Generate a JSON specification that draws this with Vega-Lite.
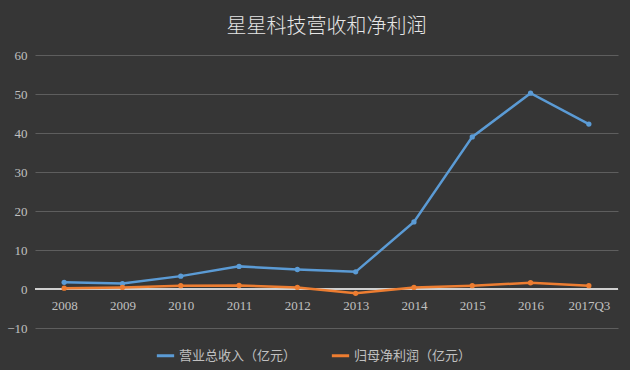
{
  "$schema": "https://vega.github.io/schema/vega-lite/v6.json",
  "autosize": "none",
  "width": 583,
  "height": 273,
  "padding": {"left": 35, "top": 55, "right": 12, "bottom": 42},
  "background": "#363636",
  "title": {
    "text": "星星科技营收和净利润",
    "font": "Noto Sans CJK SC",
    "fontWeight": 300,
    "fontSize": 20,
    "color": "#e6e6e6",
    "anchor": "middle",
    "offset": 12
  },
  "config": {
    "view": {"stroke": null},
    "font": "Liberation Serif",
    "axisY": {
      "labelOverlap": false,
      "grid": true,
      "gridColor": "#5e5e5e",
      "gridWidth": 1,
      "domain": false,
      "ticks": false,
      "labelColor": "#c0c0c0",
      "labelFontSize": 13,
      "labelFont": "Liberation Serif",
      "labelPadding": 8,
      "title": null
    }
  },
  "data": {
    "values": [
      {"period": "2008", "series": "营业总收入（亿元）", "value": 1.7},
      {"period": "2009", "series": "营业总收入（亿元）", "value": 1.4},
      {"period": "2010", "series": "营业总收入（亿元）", "value": 3.3},
      {"period": "2011", "series": "营业总收入（亿元）", "value": 5.8},
      {"period": "2012", "series": "营业总收入（亿元）", "value": 5.0},
      {"period": "2013", "series": "营业总收入（亿元）", "value": 4.4},
      {"period": "2014", "series": "营业总收入（亿元）", "value": 17.2},
      {"period": "2015", "series": "营业总收入（亿元）", "value": 39.0},
      {"period": "2016", "series": "营业总收入（亿元）", "value": 50.2},
      {"period": "2017Q3", "series": "营业总收入（亿元）", "value": 42.3},
      {"period": "2008", "series": "归母净利润（亿元）", "value": 0.2},
      {"period": "2009", "series": "归母净利润（亿元）", "value": 0.4},
      {"period": "2010", "series": "归母净利润（亿元）", "value": 0.85},
      {"period": "2011", "series": "归母净利润（亿元）", "value": 0.9},
      {"period": "2012", "series": "归母净利润（亿元）", "value": 0.4},
      {"period": "2013", "series": "归母净利润（亿元）", "value": -1.1},
      {"period": "2014", "series": "归母净利润（亿元）", "value": 0.4},
      {"period": "2015", "series": "归母净利润（亿元）", "value": 0.85},
      {"period": "2016", "series": "归母净利润（亿元）", "value": 1.6},
      {"period": "2017Q3", "series": "归母净利润（亿元）", "value": 0.85}
    ]
  },
  "layer": [
    {
      "mark": {"type": "rule", "color": "#d0d0d0", "strokeWidth": 1},
      "encoding": {"y": {"datum": 0, "type": "quantitative"}}
    },
    {
      "mark": {"type": "line", "strokeWidth": 2.5, "point": {"size": 28, "filled": true}},
      "encoding": {
        "x": {
          "field": "period",
          "type": "ordinal",
          "sort": null,
          "scale": {"padding": 0.5},
          "axis": {
            "title": null,
            "labelAngle": 0,
            "labelColor": "#c0c0c0",
            "labelFontSize": 13,
            "labelFont": "Liberation Serif",
            "domain": false,
            "ticks": false,
            "offset": -39,
            "labelPadding": 10
          }
        },
        "y": {
          "field": "value",
          "type": "quantitative",
          "scale": {"domain": [-10, 60], "nice": false},
          "axis": {
            "values": [-10, 0, 10, 20, 30, 40, 50, 60],
            "tickCount": 8
          }
        },
        "color": {
          "field": "series",
          "type": "nominal",
          "scale": {
            "domain": ["营业总收入（亿元）", "归母净利润（亿元）"],
            "range": ["#5b9bd5", "#ed7d31"]
          },
          "legend": {
            "title": null,
            "orient": "none",
            "legendX": 120,
            "legendY": 290,
            "direction": "horizontal",
            "labelColor": "#c0c0c0",
            "labelFont": "Noto Sans CJK SC",
            "labelFontSize": 13,
            "labelOffset": 3,
            "symbolType": "stroke",
            "symbolStrokeWidth": 3,
            "symbolSize": 300,
            "columnPadding": 28
          }
        }
      }
    }
  ]
}
